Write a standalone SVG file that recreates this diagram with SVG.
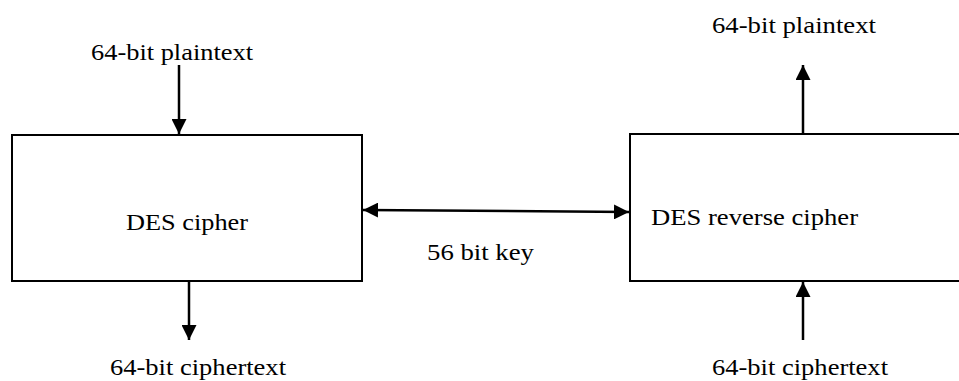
<svg xmlns="http://www.w3.org/2000/svg" width="959" height="381" viewBox="0 0 959 381">
  <style>
    .box { fill: #ffffff; stroke: #000000; stroke-width: 2; }
    .wire { fill: none; stroke: #000000; stroke-width: 2.5; }
    .lbl { font-family: "Liberation Serif", "Times New Roman", serif; font-size: 24px; fill: #000000; }
  </style>
  <defs>
    <marker id="head" viewBox="0 0 10 10" refX="10" refY="5" markerWidth="6" markerHeight="6" markerUnits="strokeWidth" orient="auto-start-reverse">
      <path d="M0,0 L10,5 L0,10 Z" fill="#000000"/>
    </marker>
  </defs>
  <rect width="959" height="381" fill="#ffffff"/>

  <g id="des-cipher">
    <rect class="box" x="12" y="135" width="350" height="146"/>
    <text class="lbl" x="126" y="230" textLength="122" lengthAdjust="spacingAndGlyphs">DES cipher</text>
  </g>

  <g id="des-reverse-cipher">
    <rect class="box" x="630" y="134" width="340" height="147"/>
    <text class="lbl" x="651" y="225" textLength="207" lengthAdjust="spacingAndGlyphs">DES reverse cipher</text>
  </g>

  <g id="labels">
    <text class="lbl" x="91" y="60" textLength="162" lengthAdjust="spacingAndGlyphs">64-bit plaintext</text>
    <text class="lbl" x="110" y="375" textLength="176" lengthAdjust="spacingAndGlyphs">64-bit ciphertext</text>
    <text class="lbl" x="712" y="33" textLength="164" lengthAdjust="spacingAndGlyphs">64-bit plaintext</text>
    <text class="lbl" x="712" y="375" textLength="176" lengthAdjust="spacingAndGlyphs">64-bit ciphertext</text>
    <text class="lbl" x="427" y="260" textLength="107" lengthAdjust="spacingAndGlyphs">56 bit key</text>
  </g>

  <g id="connectors">
    <line class="wire" x1="179" y1="65" x2="179" y2="134" marker-end="url(#head)"/>
    <line class="wire" x1="189" y1="282" x2="189" y2="340" marker-end="url(#head)"/>
    <line class="wire" x1="803" y1="133" x2="803" y2="65" marker-end="url(#head)"/>
    <line class="wire" x1="803" y1="340" x2="803" y2="282" marker-end="url(#head)"/>
    <line class="wire" x1="363" y1="210" x2="629" y2="212" marker-start="url(#head)" marker-end="url(#head)"/>
  </g>
</svg>
